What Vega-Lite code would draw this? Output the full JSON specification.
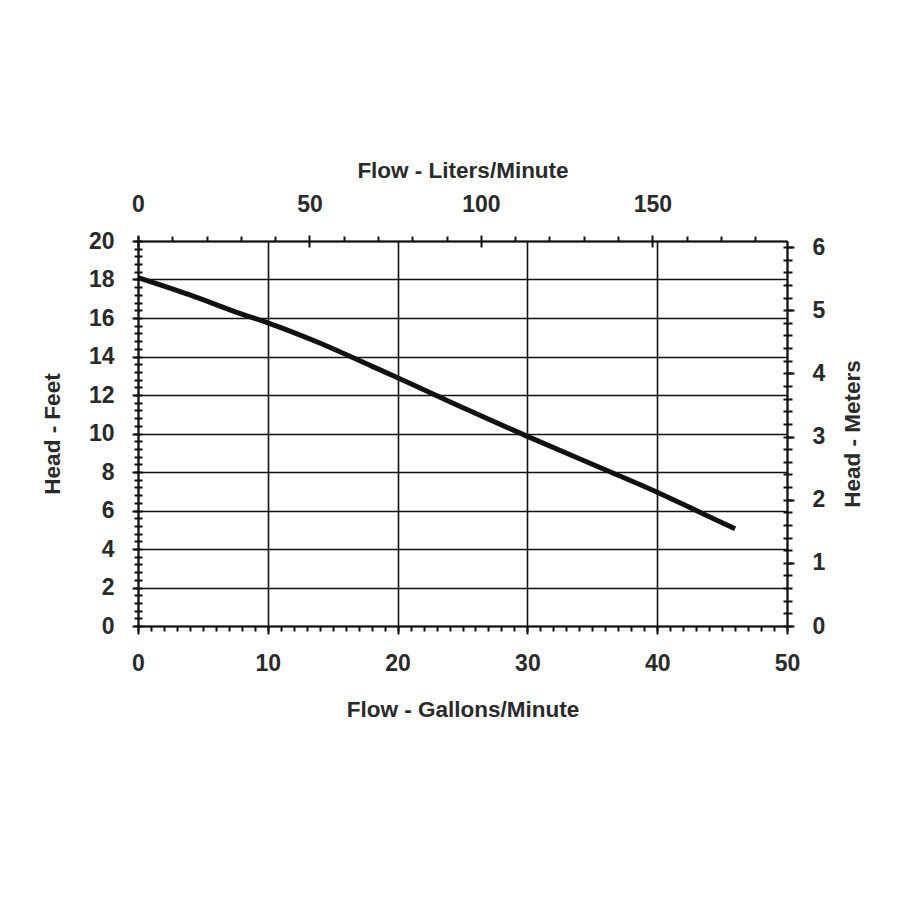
{
  "$schema": "https://vega.github.io/schema/vega-lite/v6.json",
  "autosize": "none",
  "width": 649,
  "height": 385,
  "padding": {"left": 138, "top": 241, "right": 113, "bottom": 274},
  "background": "white",
  "config": {
    "view": {"stroke": null},
    "axis": {
      "labelFont": "Liberation Sans",
      "labelFontWeight": "bold",
      "labelFontSize": 23,
      "labelColor": "#2a2a2a",
      "labelFlush": false,
      "labelOverlap": false,
      "titleFont": "Liberation Sans",
      "titleFontWeight": "bold",
      "titleFontSize": 22.5,
      "titleColor": "#2a2a2a",
      "tickColor": "#111",
      "domainColor": "#111",
      "gridColor": "#111",
      "gridOpacity": 1
    }
  },
  "data": {
    "values": [
      {"gal": 0, "ft": 18.1},
      {"gal": 4, "ft": 17.2},
      {"gal": 8, "ft": 16.2},
      {"gal": 10, "ft": 15.75},
      {"gal": 14, "ft": 14.7},
      {"gal": 18, "ft": 13.5},
      {"gal": 20, "ft": 12.9},
      {"gal": 25, "ft": 11.35},
      {"gal": 30, "ft": 9.85},
      {"gal": 35, "ft": 8.4},
      {"gal": 40, "ft": 6.95},
      {"gal": 43, "ft": 6.0},
      {"gal": 46, "ft": 5.05}
    ]
  },
  "resolve": {
    "scale": {"x": "independent", "y": "independent"},
    "axis": {"x": "independent", "y": "independent"}
  },
  "layer": [
    {
      "mark": {"type": "point", "opacity": 0},
      "encoding": {
        "x": {"field": "gal", "type": "quantitative", "scale": {"domain": [0, 50], "nice": false},
          "axis": {"orient": "bottom", "values": [0,1,2,3,4,5,6,7,8,9,10,11,12,13,14,15,16,17,18,19,20,21,22,23,24,25,26,27,28,29,30,31,32,33,34,35,36,37,38,39,40,41,42,43,44,45,46,47,48,49,50],
            "labels": false, "domain": false, "grid": false, "ticks": true, "tickSize": 5, "tickWidth": 2, "title": null}},
        "y": {"field": "ft", "type": "quantitative", "scale": {"domain": [0, 20], "nice": false},
          "axis": {"orient": "left", "values": [0,0.4,0.8,1.2,1.6,2,2.4,2.8,3.2,3.6,4,4.4,4.8,5.2,5.6,6,6.4,6.8,7.2,7.6,8,8.4,8.8,9.2,9.6,10,10.4,10.8,11.2,11.6,12,12.4,12.8,13.2,13.6,14,14.4,14.8,15.2,15.6,16,16.4,16.8,17.2,17.6,18,18.4,18.8,19.2,19.6,20],
            "labels": false, "domain": false, "grid": false, "tickSize": 4, "tickWidth": 2, "title": null}}
      }
    },
    {
      "mark": {"type": "point", "opacity": 0},
      "encoding": {
        "x": {"field": "gal", "type": "quantitative", "scale": {"domain": [0, 50], "nice": false}, "axis": null},
        "y": {"field": "ft", "type": "quantitative", "scale": {"domain": [0, 20], "nice": false},
          "axis": {"orient": "left", "values": [0,0.4,0.8,1.2,1.6,2,2.4,2.8,3.2,3.6,4,4.4,4.8,5.2,5.6,6,6.4,6.8,7.2,7.6,8,8.4,8.8,9.2,9.6,10,10.4,10.8,11.2,11.6,12,12.4,12.8,13.2,13.6,14,14.4,14.8,15.2,15.6,16,16.4,16.8,17.2,17.6,18,18.4,18.8,19.2,19.6,20],
            "labels": false, "domain": false, "grid": false, "tickSize": -4, "tickWidth": 2, "title": null}}
      }
    },
    {
      "data": {"values": [{"lpm": 0, "m": 0}]},
      "mark": {"type": "point", "opacity": 0},
      "encoding": {
        "x": {"field": "lpm", "type": "quantitative", "scale": {"domain": [0, 189.27], "nice": false, "zero": true},
          "axis": {"orient": "top", "values": [0,10,20,30,40,60,70,80,90,110,120,130,140,160,170,180],
            "labels": false, "domain": false, "grid": false, "tickSize": 5, "tickWidth": 2, "title": null}},
        "y": {"field": "m", "type": "quantitative", "scale": {"domain": [0, 6.096], "nice": false, "zero": true},
          "axis": {"orient": "right", "values": [0,0.2,0.4,0.6,0.8,1,1.2,1.4,1.6,1.8,2,2.2,2.4,2.6,2.8,3,3.2,3.4,3.6,3.8,4,4.2,4.4,4.6,4.8,5,5.2,5.4,5.6,5.8,6],
            "labels": false, "domain": false, "grid": false, "tickSize": 5, "tickWidth": 2, "title": null}}
      }
    },
    {
      "data": {"values": [{"lpm": 0, "m": 0}]},
      "mark": {"type": "point", "opacity": 0},
      "encoding": {
        "x": {"field": "lpm", "type": "quantitative", "scale": {"domain": [0, 189.27], "nice": false, "zero": true},
          "axis": {"orient": "top", "values": [0,50,100,150],
            "labels": false, "domain": false, "grid": false, "tickSize": -6, "tickWidth": 2, "title": null}},
        "y": {"field": "m", "type": "quantitative", "scale": {"domain": [0, 6.096], "nice": false, "zero": true},
          "axis": {"orient": "right", "values": [0,0.2,0.4,0.6,0.8,1,1.2,1.4,1.6,1.8,2,2.2,2.4,2.6,2.8,3,3.2,3.4,3.6,3.8,4,4.2,4.4,4.6,4.8,5,5.2,5.4,5.6,5.8,6],
            "labels": false, "domain": false, "grid": false, "tickSize": -4, "tickWidth": 2, "title": null}}
      }
    },
    {
      "data": {"values": [{"lpm": 0, "m": 0}]},
      "mark": {"type": "point", "opacity": 0},
      "encoding": {
        "x": {"field": "lpm", "type": "quantitative", "scale": {"domain": [0, 189.27], "nice": false, "zero": true},
          "axis": {"orient": "top", "values": [0,50,100,150], "format": "d",
            "domain": true, "domainWidth": 2, "grid": false, "tickSize": 6, "tickWidth": 2,
            "labelPadding": 19, "title": "Flow - Liters/Minute", "titlePadding": 11}},
        "y": {"field": "m", "type": "quantitative", "scale": {"domain": [0, 6.096], "nice": false, "zero": true},
          "axis": {"orient": "right", "values": [0,1,2,3,4,5,6], "format": "d",
            "domain": true, "domainWidth": 2, "grid": false, "tickSize": 7, "tickWidth": 2,
            "labelPadding": 18, "title": "Head - Meters", "titleAngle": 270, "titlePadding": 40}}
      }
    },
    {
      "mark": {"type": "line", "color": "#111", "strokeWidth": 5, "interpolate": "monotone", "strokeCap": "butt"},
      "encoding": {
        "x": {"field": "gal", "type": "quantitative", "scale": {"domain": [0, 50], "nice": false},
          "axis": {"orient": "bottom", "values": [0,10,20,30,40,50], "format": "d",
            "domain": true, "domainWidth": 2, "grid": true, "gridWidth": 1.6, "tickSize": 8, "tickWidth": 2,
            "labelPadding": 18, "title": "Flow - Gallons/Minute", "titlePadding": 23}},
        "y": {"field": "ft", "type": "quantitative", "scale": {"domain": [0, 20], "nice": false},
          "axis": {"orient": "left", "values": [0,2,4,6,8,10,12,14,16,18,20], "format": "d",
            "domain": true, "domainWidth": 2, "grid": true, "gridWidth": 1.6, "tickSize": 6, "tickWidth": 2,
            "labelPadding": 18, "title": "Head - Feet", "titlePadding": 24}}
      }
    }
  ]
}
